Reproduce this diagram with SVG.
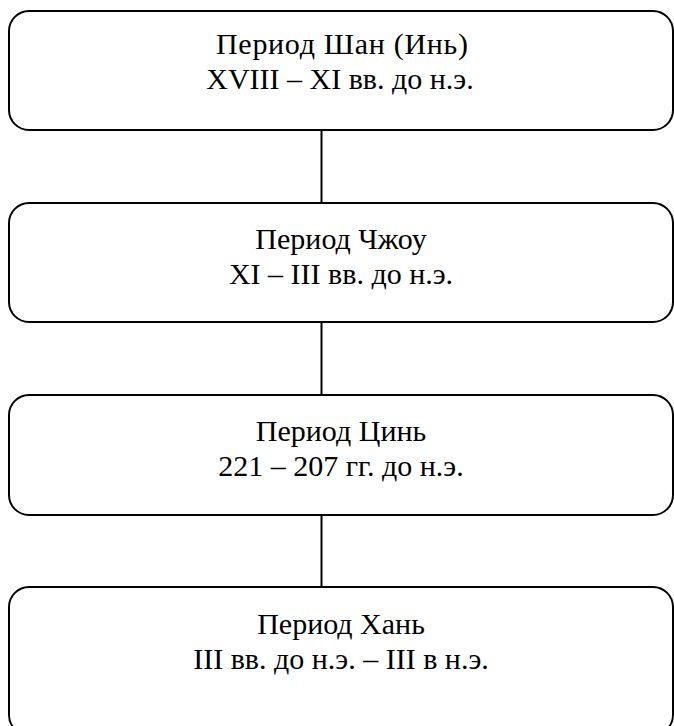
<svg xmlns="http://www.w3.org/2000/svg" width="674" height="726" viewBox="0 0 674 726">
<style>
.box{fill:#fff;stroke:#000;stroke-width:2}
.t{font-family:'Liberation Serif','Times New Roman',serif;font-size:30px;fill:#000;text-anchor:middle}
.c{stroke:#000;stroke-width:2;fill:none}
</style>
<rect width="674" height="726" fill="#fff"/>
<g id="connectors">
<line class="c" x1="321.5" y1="130" x2="321.5" y2="203"/>
<line class="c" x1="321.5" y1="322" x2="321.5" y2="395"/>
<line class="c" x1="321.5" y1="515" x2="321.5" y2="587"/>
</g>
<g id="shang">
<rect class="box" x="9" y="11" width="664" height="119" rx="20"/>
<text class="t" x="342" y="54" textLength="252" lengthAdjust="spacing">Период Шан (Инь)</text>
<text class="t" x="340" y="89">XVIII – XI вв. до н.э.</text>
</g>
<g id="zhou">
<rect class="box" x="9" y="203" width="664" height="119" rx="20"/>
<text class="t" x="341" y="249">Период Чжоу</text>
<text class="t" x="341" y="284">XI – III вв. до н.э.</text>
</g>
<g id="qin">
<rect class="box" x="9" y="395" width="664" height="120" rx="20"/>
<text class="t" x="341" y="441">Период Цинь</text>
<text class="t" x="341" y="476">221 – 207 гг. до н.э.</text>
</g>
<g id="han">
<rect class="box" x="9" y="587" width="664" height="148" rx="20"/>
<text class="t" x="341" y="634">Период Хань</text>
<text class="t" x="341" y="669">III вв. до н.э. – III в н.э.</text>
</g>
</svg>
